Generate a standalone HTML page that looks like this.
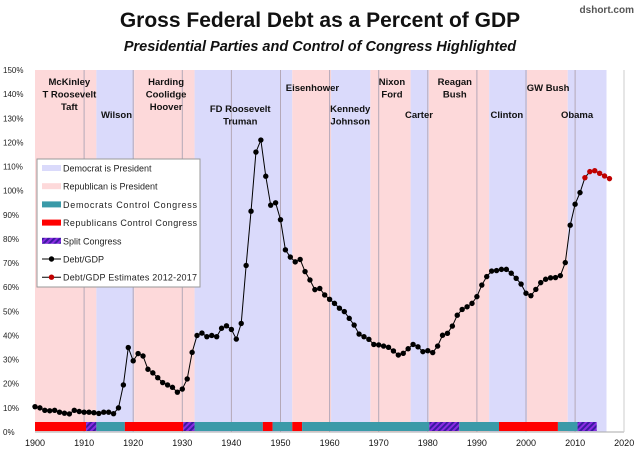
<!DOCTYPE html>
<html><head><meta charset="utf-8"><style>
body{margin:0;background:#fff;width:640px;height:457px;overflow:hidden}
svg{display:block;font-family:"Liberation Sans",sans-serif}
</style></head><body>
<svg id="c" width="640" height="457" xmlns="http://www.w3.org/2000/svg">
<text x="320" y="27" text-anchor="middle" font-size="21" font-weight="bold" fill="#111">Gross Federal Debt as a Percent of GDP</text>
<text x="320" y="51" text-anchor="middle" font-size="14.5" font-weight="bold" font-style="italic" fill="#111">Presidential Parties and Control of Congress Highlighted</text>
<text x="634" y="13" text-anchor="end" font-size="10" font-weight="bold" fill="#555">dshort.com</text>
<defs><pattern id="hatch" width="4" height="4" patternUnits="userSpaceOnUse" patternTransform="rotate(45)"><rect width="4" height="4" fill="#3a1aa0"/><rect width="2" height="4" fill="#8a2be2"/></pattern></defs>
<g id="bands"></g><g id="grid"></g><g id="cong"></g><g id="axes"></g><g id="labels"></g><g id="series"></g><g id="legend"></g>
</svg>
<script>
const presBreaks=[1900,1912.5,1920.2,1932.5,1952.4,1960.3,1968.3,1976.5,1980.2,1992.5,2000.2,2008.5,2016.4];
const presParty=["R","D","R","D","R","D","R","D","R","D","R","D"];
const congBreaks=[1900,1910.4,1912.5,1918.3,1930.2,1932.5,1946.4,1948.4,1952.4,1954.4,1980.3,1986.4,1994.5,2006.5,2010.5,2014.4];
const congParty=["R","S","D","R","S","D","R","D","R","D","S","D","R","D","S"];
const years=[];for(let y=1900;y<=2011;y++)years.push(y);
const debt=[10.5,10,9,8.8,9,8.2,7.8,7.5,9,8.5,8.2,8.2,8,7.7,8.2,8.2,7.6,10,19.5,35,29.5,32.5,31.5,26,24.5,22.5,20.5,19.5,18.5,16.5,17.8,22,33,40,41,39.5,40,39.5,43,44,42.5,38.5,45,69,91.5,116,121,106,94,95,88,75.5,72.5,70.5,71.5,66.5,63,59,59.5,56.8,55,53.3,51.3,49.9,47.1,44.3,40.6,39.5,38.4,36.3,36.1,35.6,35.1,33.6,31.9,32.6,34.5,36.3,35.3,33.3,33.7,32.9,35.6,40.1,40.9,43.9,48.4,50.8,51.9,53.3,56.1,60.9,64.4,66.7,66.9,67.4,67.4,65.8,63.7,61.3,57.5,56.5,59.1,61.9,63.3,63.9,64,64.8,70.2,85.7,94.4,99.2];
const estYears=[2011,2012,2013,2014,2015,2016,2017];
const estDebt=[99.2,105.4,107.9,108.3,107.2,106.1,105];
const xTicks=[1900,1910,1920,1930,1940,1950,1960,1970,1980,1990,2000,2010,2020];
const yTicks=[0,10,20,30,40,50,60,70,80,90,100,110,120,130,140,150];
const presLabels=[["McKinley|T Roosevelt|Taft",1907,82],["Wilson",1916.6,115],["Harding|Coolidge|Hoover",1926.7,82],["FD Roosevelt|Truman",1941.8,109],["Eisenhower",1956.5,88],["Kennedy|Johnson",1964.2,109],["Nixon|Ford",1972.7,82],["Carter",1978.2,115],["Reagan|Bush",1985.5,82],["Clinton",1996.1,115],["GW Bush",2004.5,88],["Obama",2010.4,115]];
const NS="http://www.w3.org/2000/svg";
const X=y=>35+4.91*(y-1900), Y=v=>432-2.413*v;
function mk(p,t,a){const e=document.createElementNS(NS,t);for(const k in a)e.setAttribute(k,a[k]);document.getElementById(p).appendChild(e);return e;}
for(let i=0;i<presParty.length;i++){
 const r=mk("bands","rect",{x:X(presBreaks[i]),y:70,width:X(presBreaks[i+1])-X(presBreaks[i]),height:362,fill:presParty[i]=="R"?"#fdd9da":"#dadafb"});
 
 
}
xTicks.slice(1,12).forEach(t=>{const l=mk("grid","line",{x1:X(t),x2:X(t),y1:70,y2:432,stroke:"#b4a8b8","stroke-width":1});
 
 });
for(let i=0;i<congParty.length;i++){
 const c=congParty[i];
 const r=mk("cong","rect",{x:X(congBreaks[i]),y:422,width:X(congBreaks[i+1])-X(congBreaks[i]),height:9,fill:c=="R"?"#ff0000":c=="D"?"#3a9aa8":"url(#hatch)"});
 
 
}
mk("axes","line",{x1:35,x2:624,y1:432,y2:432,stroke:"#aaa"});
mk("axes","line",{x1:624,x2:624,y1:70,y2:432,stroke:"#ccc"});
yTicks.forEach(t=>{const e=mk("axes","text",{x:3,y:Y(t)+3,"font-size":8,fill:"#222"});e.textContent=t+"%";
 
 });
xTicks.forEach(t=>{const e=mk("axes","text",{x:X(t),y:446,"font-size":9,"text-anchor":"middle",fill:"#111"});e.textContent=t;
 
 });
presLabels.forEach(([s,yr,y0])=>{s.split("|").forEach((ln,i)=>{const e=mk("labels","text",{x:X(yr),y:y0+i*12.5+3,"font-size":9.5,"font-weight":"bold","text-anchor":"middle",fill:"#111"});e.textContent=ln;
 
 });});
mk("series","polyline",{points:years.map((y,i)=>X(y)+","+Y(debt[i])).join(" "),fill:"none",stroke:"#000","stroke-width":1});
mk("series","polyline",{points:estYears.map((y,i)=>X(y)+","+Y(estDebt[i])).join(" "),fill:"none",stroke:"#000","stroke-width":1});
years.forEach((y,i)=>{const c=mk("series","circle",{cx:X(y),cy:Y(debt[i]),r:2.7,fill:"#000"});
 
 });
estYears.slice(1).forEach((y,i)=>{const c=mk("series","circle",{cx:X(y),cy:Y(estDebt[i+1]),r:2.7,fill:"#c00000"});
 
 });
const lg=mk("legend","rect",{x:37,y:159,width:163,height:128,fill:"#fff",stroke:"#999"});


const items=[["Democrat is President","#dadafb"],["Republican is President","#fdd9da"],["Democrats Control Congress","#3a9aa8"],["Republicans Control Congress","#ff0000"],["Split Congress","url(#hatch)"],["Debt/GDP","#000"],["Debt/GDP Estimates 2012-2017","#c00000"]];
items.forEach(([t,c],i)=>{const y=168+i*18.2;
 if(i<5){mk("legend","rect",{x:42,y:y-3,width:19,height:6,fill:c});}
 else{mk("legend","line",{x1:42,x2:61,y1:y,y2:y,stroke:"#000"});mk("legend","circle",{cx:51.5,cy:y,r:2.7,fill:c});}
 const e=mk("legend","text",{x:63,y:y+3.5,"font-size":9,fill:"#222",textLength:t.length>24?134:undefined});e.textContent=t;
 if(t.length<=24)e.removeAttribute("textLength");
 
 });
</script>
</body></html>
